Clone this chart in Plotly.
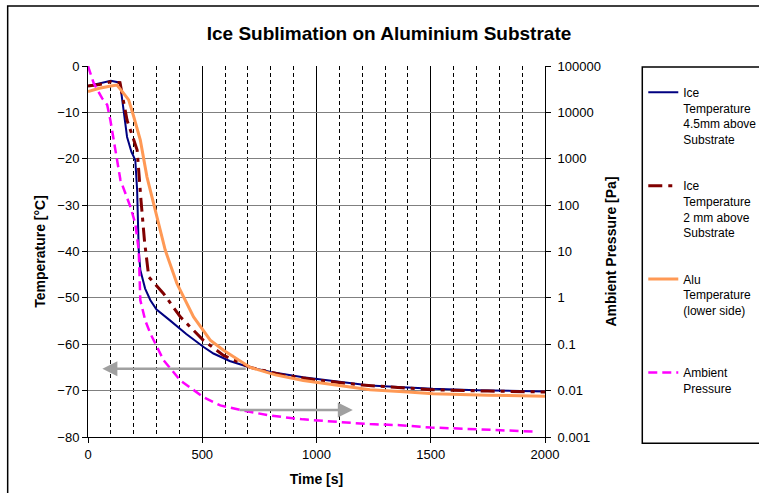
import plotly.graph_objects as go

# ---------------- data ----------------
navy_t = [0, 50, 100, 140, 156, 171, 190, 207, 215, 222, 229, 250, 273, 300, 360, 430, 506, 549, 620, 710, 800, 941, 1100, 1234, 1400, 1509, 1700, 1850, 2000]
navy_T = [-4.3, -3.8, -3.2, -3.6, -9.5, -15.3, -18.5, -20.3, -26.8, -39.7, -44.0, -48.0, -50.5, -52.5, -54.9, -57.8, -60.6, -62.0, -63.6, -65.0, -66.0, -67.1, -68.1, -68.9, -69.3, -69.6, -69.9, -70.1, -70.2]

red_t = [0, 50, 100, 140, 171, 215, 232, 247, 266, 300, 331, 404, 506, 593, 710, 850, 1000, 1200, 1500, 1750, 2000]
red_T = [-4.3, -4.0, -3.4, -3.6, -11.7, -18.1, -29.0, -37.6, -45.5, -47.5, -49.1, -54.1, -59.2, -62.4, -65.0, -66.6, -67.7, -68.8, -69.8, -70.1, -70.3]

alu_t = [0, 50, 100, 127, 156, 178, 200, 229, 258, 295, 338, 389, 462, 535, 593, 710, 820, 942, 1100, 1234, 1400, 1510, 1750, 2000]
alu_T = [-5.5, -4.8, -4.3, -4.1, -5.9, -7.3, -10.9, -16.0, -23.9, -31.1, -39.7, -46.9, -54.1, -59.1, -61.3, -65.0, -66.6, -67.8, -68.9, -69.8, -70.3, -70.7, -71.0, -71.2]

p_t = [0, 25, 62, 84, 98, 120, 142, 164, 186, 207, 222, 229, 251, 273, 331, 404, 506, 579, 680, 797, 942, 1100, 1234, 1365, 1500, 1656, 1800, 1962]
p_v = [100000, 42700, 20000, 14500, 6760, 1550, 347, 178, 91, 40, 10.7, 0.89, 0.32, 0.17, 0.045, 0.0166, 0.0072, 0.0048, 0.0037, 0.0029, 0.0024, 0.0021, 0.0019, 0.0018, 0.0016, 0.0015, 0.0014, 0.0013]

names = ["Ice<br>Temperature<br>4.5mm above<br>Substrate",
         "Ice<br>Temperature<br>2 mm above<br>Substrate",
         "Alu<br>Temperature<br>(lower side)<br> ",
         "Ambient<br>Pressure"]

p_ticks = [0.001, 0.01, 0.1, 1, 10, 100, 1000, 10000, 100000]
p_ticktext = ["0.001", "0.01", "0.1", "1", "10", "100", "1000", "10000", "100000"]

# arrows (from, to) in data coords: (t, T)
arrow_left = ((697, -65.3), (63, -65.3))
arrow_right = ((657, -74.2), (1159, -74.2))

FONT = "Arial, Liberation Sans, sans-serif"

fig = go.Figure()
fig.add_trace(go.Scatter(x=navy_t, y=navy_T, mode="lines", name=names[0], legendgroup="a",
                         line=dict(color="#000080", width=2)))
fig.add_trace(go.Scatter(x=red_t, y=red_T, mode="lines", name=names[1], legendgroup="b",
                         line=dict(color="#800000", width=3, dash="14px,6px,4px,6px")))
fig.add_trace(go.Scatter(x=alu_t, y=alu_T, mode="lines", name=names[2], legendgroup="c",
                         line=dict(color="#FF9955", width=3)))
fig.add_trace(go.Scatter(x=p_t, y=p_v, mode="lines", name=names[3], legendgroup="d", yaxis="y2",
                         line=dict(color="#FF00FF", width=2.5, dash="9px,5px")))

for (x0, y0), (x1, y1) in (arrow_left, arrow_right):
    fig.add_annotation(x=x1, y=y1, ax=x0, ay=y0, xref="x", yref="y", axref="x", ayref="y",
                       showarrow=True, arrowhead=2, arrowsize=1.2, arrowwidth=2.5,
                       arrowcolor="#A0A0A0", text="")

W, H = 759, 493
L, R, T, B = 87.5, 545.5, 66, 436.7
pw, ph = R - L, B - T
def px(x):
    return (x - L) / pw
def py(y):
    return (B - y) / ph

# outer chart frame and legend box
fig.add_shape(type="rect", xref="paper", yref="paper", x0=px(7), x1=px(775), y0=py(6), y1=py(510),
              line=dict(color="black", width=1.5), layer="below")
fig.add_shape(type="rect", xref="paper", yref="paper", x0=px(643), x1=px(775), y0=py(67), y1=py(443),
              line=dict(color="black", width=1.5), layer="below")

fig.update_layout(
    width=W, height=H,
    margin=dict(l=L, r=W - R, t=T, b=H - B, pad=0, autoexpand=False),
    paper_bgcolor="white", plot_bgcolor="white",
    font=dict(family=FONT, size=13, color="black"),
    title=dict(text="<b>Ice Sublimation on Aluminium Substrate</b>", x=389 / W, xref="container",
               xanchor="center", y=1 - 33 / H, yref="container", yanchor="middle",
               font=dict(size=19, family=FONT, color="black")),
    xaxis=dict(range=[0, 2000], dtick=500, tick0=0, showgrid=True, gridcolor="black", gridwidth=1,
               minor=dict(dtick=100, showgrid=True, gridcolor="black", griddash="4px,3px", gridwidth=1),
               showline=True, linecolor="black", linewidth=1, ticks="outside", ticklen=5, tickcolor="black",
               zeroline=False, title=dict(text="<b>Time [s]</b>", font=dict(size=14), standoff=13),
               tickfont=dict(size=13)),
    yaxis=dict(range=[-80, 0], dtick=10, showgrid=True, gridcolor="#808080", gridwidth=1,
               showline=True, linecolor="black", linewidth=1, ticks="outside", ticklen=5, tickcolor="black",
               zeroline=False, title=dict(text="<b>Temperature [°C]</b>", font=dict(size=14), standoff=8),
               tickfont=dict(size=13)),
    yaxis2=dict(type="log", range=[-3, 5], overlaying="y", side="right", showgrid=False,
                tickvals=p_ticks, ticktext=p_ticktext,
                showline=True, linecolor="black", linewidth=1, ticks="outside", ticklen=5, tickcolor="black",
                ticklabelstandoff=4,
                title=dict(text="<b>Ambient Pressure [Pa]</b>", font=dict(size=14), standoff=6),
                tickfont=dict(size=13)),
    showlegend=True,
    legend=dict(x=px(644), xanchor="left", y=py(78), yanchor="top", valign="top",
                bgcolor="rgba(0,0,0,0)", borderwidth=0, font=dict(size=12, family=FONT),
                tracegroupgap=28, itemwidth=30),
)

fig.write_html("out.html")
